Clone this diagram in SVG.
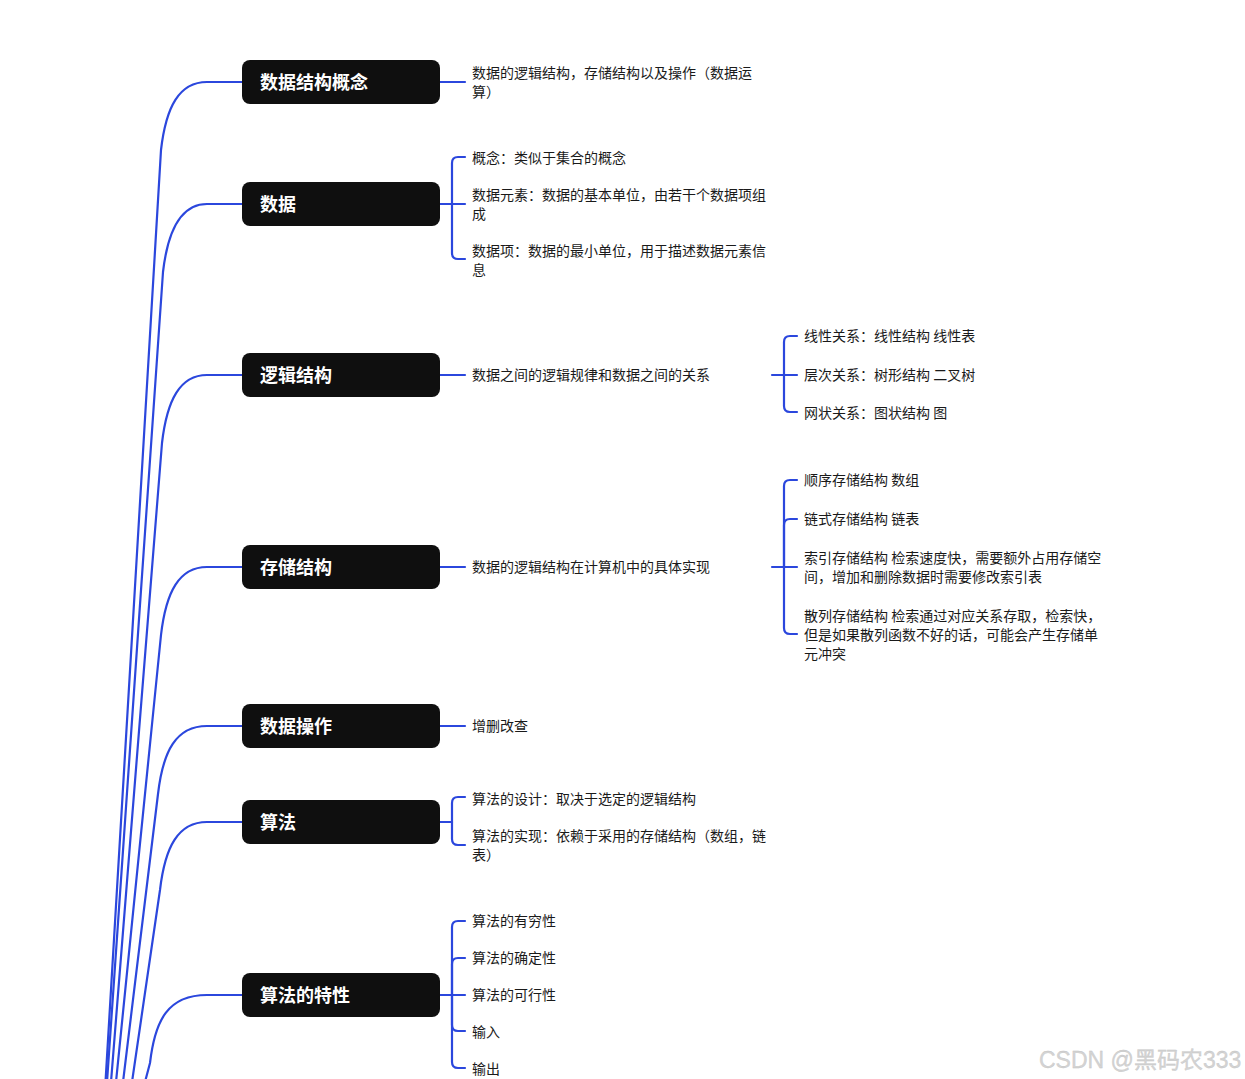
<svg xmlns="http://www.w3.org/2000/svg" width="1245" height="1079" viewBox="0 0 1245 1079">
<style>
.box{fill:#0f0f0f}
.nt{font-family:"Noto Sans CJK SC","Noto Sans",sans-serif;font-size:18px;font-weight:bold;fill:#ffffff}
.ct{font-family:"Noto Sans CJK SC","Noto Sans",sans-serif;font-size:14px;fill:#1a1a1a}
.ln{fill:none;stroke:#2b47dd;stroke-width:2.2;stroke-linecap:round;stroke-linejoin:round}
.wm{font-family:"Liberation Sans","Noto Sans CJK SC",sans-serif;font-size:23px;fill:#d4d4d4;stroke:#c2c2c2;stroke-width:0.3}
</style>
<rect width="1245" height="1079" fill="#ffffff"/>
<g id="connectors" class="ln">
  <path d="M105.5,1082 L161,150 C166,107 179,82 207,82 L242,82"/>
  <path d="M107,1082 L163,272 C168,229 181,204 207,204 L242,204"/>
  <path d="M111,1082 L162,443 C167,400 180,375 207,375 L242,375"/>
  <path d="M116,1082 L161,635 C166,592 179,567 207,567 L242,567"/>
  <path d="M123,1082 L158,794 C163,751 176,726 207,726 L242,726"/>
  <path d="M132,1082 L160,890 C165,847 178,822 207,822 L242,822"/>
  <path d="M145,1082 L150,1063 C155,1020 168,995 207,995 L242,995"/>
  <path d="M440,82 H465"/>
  <path d="M440,204 H465"/>
  <path d="M452,204 V163 Q452,157 458,157 H465"/>
  <path d="M452,204 V253 Q452,259 458,259 H465"/>
  <path d="M440,375 H465"/>
  <path d="M772,375 H797"/>
  <path d="M784,375 V342 Q784,336 790,336 H797"/>
  <path d="M784,375 V406 Q784,412 790,412 H797"/>
  <path d="M440,567 H465"/>
  <path d="M772,567 H797"/>
  <path d="M784,567 V486 Q784,480 790,480 H797"/>
  <path d="M784,567 V525 Q784,519 790,519 H797"/>
  <path d="M784,567 V628 Q784,634 790,634 H797"/>
  <path d="M440,726 H465"/>
  <path d="M440,822 H452"/>
  <path d="M452,822 V803 Q452,797 458,797 H465"/>
  <path d="M452,822 V839 Q452,845 458,845 H465"/>
  <path d="M440,995 H465"/>
  <path d="M452,995 V927 Q452,921 458,921 H465"/>
  <path d="M452,995 V964 Q452,958 458,958 H465"/>
  <path d="M452,995 V1025 Q452,1031 458,1031 H465"/>
  <path d="M452,995 V1062 Q452,1068 458,1068 H465"/>
</g>
<g id="node-concept">
  <rect class="box" x="242" y="60" width="198" height="44" rx="8"/>
  <text class="nt" x="260" y="89">数据结构概念</text>
</g>
<g id="node-concept-desc" class="ct">
  <text x="472" y="78">数据的逻辑结构，存储结构以及操作（数据运</text>
  <text x="472" y="97">算）</text>
</g>
<g id="node-data">
  <rect class="box" x="242" y="182" width="198" height="44" rx="8"/>
  <text class="nt" x="260" y="211">数据</text>
</g>
<g id="node-data-children" class="ct">
  <text x="472" y="163">概念：类似于集合的概念</text>
  <text x="472" y="200">数据元素：数据的基本单位，由若干个数据项组</text>
  <text x="472" y="219">成</text>
  <text x="472" y="256">数据项：数据的最小单位，用于描述数据元素信</text>
  <text x="472" y="275">息</text>
</g>
<g id="node-logic">
  <rect class="box" x="242" y="353" width="198" height="44" rx="8"/>
  <text class="nt" x="260" y="382">逻辑结构</text>
</g>
<g id="node-logic-children" class="ct">
  <text x="472" y="380">数据之间的逻辑规律和数据之间的关系</text>
  <text x="804" y="341">线性关系：线性结构 线性表</text>
  <text x="804" y="380">层次关系：树形结构 二叉树</text>
  <text x="804" y="418">网状关系：图状结构 图</text>
</g>
<g id="node-storage">
  <rect class="box" x="242" y="545" width="198" height="44" rx="8"/>
  <text class="nt" x="260" y="574">存储结构</text>
</g>
<g id="node-storage-children" class="ct">
  <text x="472" y="572">数据的逻辑结构在计算机中的具体实现</text>
  <text x="804" y="485">顺序存储结构 数组</text>
  <text x="804" y="524">链式存储结构 链表</text>
  <text x="804" y="563">索引存储结构 检索速度快，需要额外占用存储空</text>
  <text x="804" y="582">间，增加和删除数据时需要修改索引表</text>
  <text x="804" y="621">散列存储结构 检索通过对应关系存取，检索快，</text>
  <text x="804" y="640">但是如果散列函数不好的话，可能会产生存储单</text>
  <text x="804" y="659">元冲突</text>
</g>
<g id="node-operation">
  <rect class="box" x="242" y="704" width="198" height="44" rx="8"/>
  <text class="nt" x="260" y="733">数据操作</text>
</g>
<g id="node-operation-children" class="ct">
  <text x="472" y="731">增删改查</text>
</g>
<g id="node-algorithm">
  <rect class="box" x="242" y="800" width="198" height="44" rx="8"/>
  <text class="nt" x="260" y="829">算法</text>
</g>
<g id="node-algorithm-children" class="ct">
  <text x="472" y="804">算法的设计：取决于选定的逻辑结构</text>
  <text x="472" y="841">算法的实现：依赖于采用的存储结构（数组，链</text>
  <text x="472" y="860">表）</text>
</g>
<g id="node-algorithm-props">
  <rect class="box" x="242" y="973" width="198" height="44" rx="8"/>
  <text class="nt" x="260" y="1002">算法的特性</text>
</g>
<g id="node-algorithm-props-children" class="ct">
  <text x="472" y="926">算法的有穷性</text>
  <text x="472" y="963">算法的确定性</text>
  <text x="472" y="1000">算法的可行性</text>
  <text x="472" y="1037">输入</text>
  <text x="472" y="1074">输出</text>
</g>
<text class="wm" x="1039" y="1068">CSDN @黑码农333</text>
</svg>
